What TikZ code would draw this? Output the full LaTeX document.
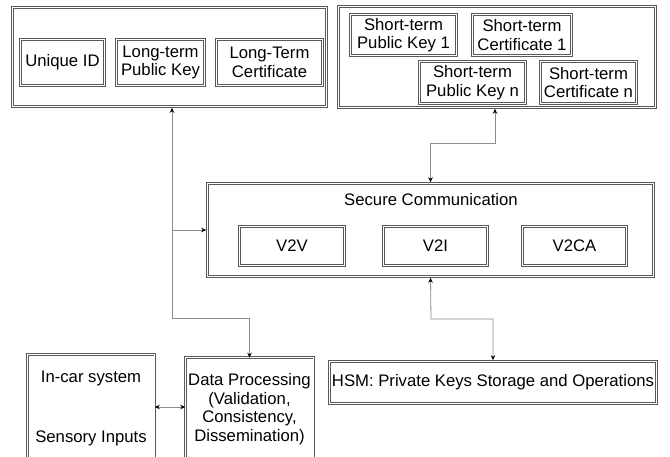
\documentclass[tikz,border=0pt]{standalone}
\usepackage{fontspec}
\setmainfont{Liberation Sans}
\usetikzlibrary{arrows.meta}
\tikzset{
  dline/.style={draw=black!65, line width=0.75pt, double=white, double distance=1.1pt},
  dbox/.style={dline, rectangle, inner sep=0pt, outer sep=1.3pt, align=center, font=\fontsize{16.7}{18.5}\selectfont},
  obox/.style={rectangle, inner sep=0pt, outer sep=1.3pt, align=center, font=\fontsize{16.7}{18.5}\selectfont},
  txt/.style={inner sep=0pt, font=\fontsize{16.7}{18.5}\selectfont},
  conn/.style={draw=black!45, line width=0.8pt, {Stealth[black,length=5pt,width=4.5pt]}-{Stealth[black,length=5pt,width=4.5pt]}},
  conn1/.style={draw=black!45, line width=0.8pt, -{Stealth[black,length=5pt,width=4.5pt]}}
}
\begin{document}
\begin{tikzpicture}[x=1pt,y=-1pt]
\useasboundingbox (0,0) rectangle (670,457);
% top-left group
\node[dbox, minimum width=314pt, minimum height=99pt] (lt) at (169.5,57) {};
\node[dbox, minimum width=84pt, minimum height=46pt] (uid) at (62.5,62.5) {Unique ID};
\node[dbox, minimum width=88pt, minimum height=46pt] (ltpk) at (160.5,62.5) {Long-term\\Public Key};
\node[dbox, minimum width=106pt, minimum height=46pt] (ltc) at (269.5,62.5) {Long-Term\\Certificate};
% top-right group
\node[dbox, minimum width=317pt, minimum height=101pt] (st) at (497,57) {};
\node[dbox, minimum width=106pt, minimum height=41pt] (stpk1) at (403.5,35) {Short-term\\Public Key 1};
\node[dbox, minimum width=99pt, minimum height=41pt] (stc1) at (522,35) {Short-term\\Certificate 1};
\node[dbox, minimum width=106pt, minimum height=42pt] (stpkn) at (472.5,82.5) {Short-term\\Public Key n};
\node[dbox, minimum width=96pt, minimum height=42pt] (stcn) at (588.5,82.5) {Short-term\\Certificate n};
% secure communication
\node[dbox, minimum width=446pt, minimum height=93pt] (sc) at (430.5,230) {};
\node[txt] (sctitle) at (431,200) {Secure Communication};
\node[dbox, minimum width=105pt, minimum height=39pt] (v2v) at (292,246) {V2V};
\node[dbox, minimum width=104pt, minimum height=39pt] (v2i) at (435.5,246) {V2I};
\node[dbox, minimum width=104pt, minimum height=39pt] (v2ca) at (574.5,246) {V2CA};
% bottom
\node[dbox, minimum width=327pt, minimum height=42pt] (hsm) at (493,382.5) {HSM: Private Keys Storage and Operations};
\node[obox, minimum width=126pt, minimum height=100pt] (dp) at (249.5,409) {Data Processing\\(Validation,\\Consistency,\\Dissemination)};
\node[obox, minimum width=125pt, minimum height=104pt] (incar) at (91,408) {};
\draw[dline] (dp.south west) -- (dp.north west) -- (dp.north east) -- (dp.south east);
\draw[dline] (incar.south west) -- (incar.north west) -- (incar.north east) -- (incar.south east);
\node[txt] (incar1) at (91,378) {In-car system};
\node[txt] (incar2) at (91,438) {Sensory Inputs};
% connectors
\coordinate (j1) at (172,318);
\coordinate (j2) at (172,230);
\coordinate (j3) at (495,143);
\coordinate (j4) at (431,319);
\draw[conn] (lt.south -| j1) -- (j1) -| (dp.north);
\draw[conn1] (j2) -- (sc.west);
\draw[conn] (st.south -| j3) -- (j3) -| (sc.north);
\draw[conn] (sc.south) -- (j4) -| (hsm.north);
\draw[conn] (incar.east |- 0,407) -- (dp.west |- 0,407);
\end{tikzpicture}
\end{document}
